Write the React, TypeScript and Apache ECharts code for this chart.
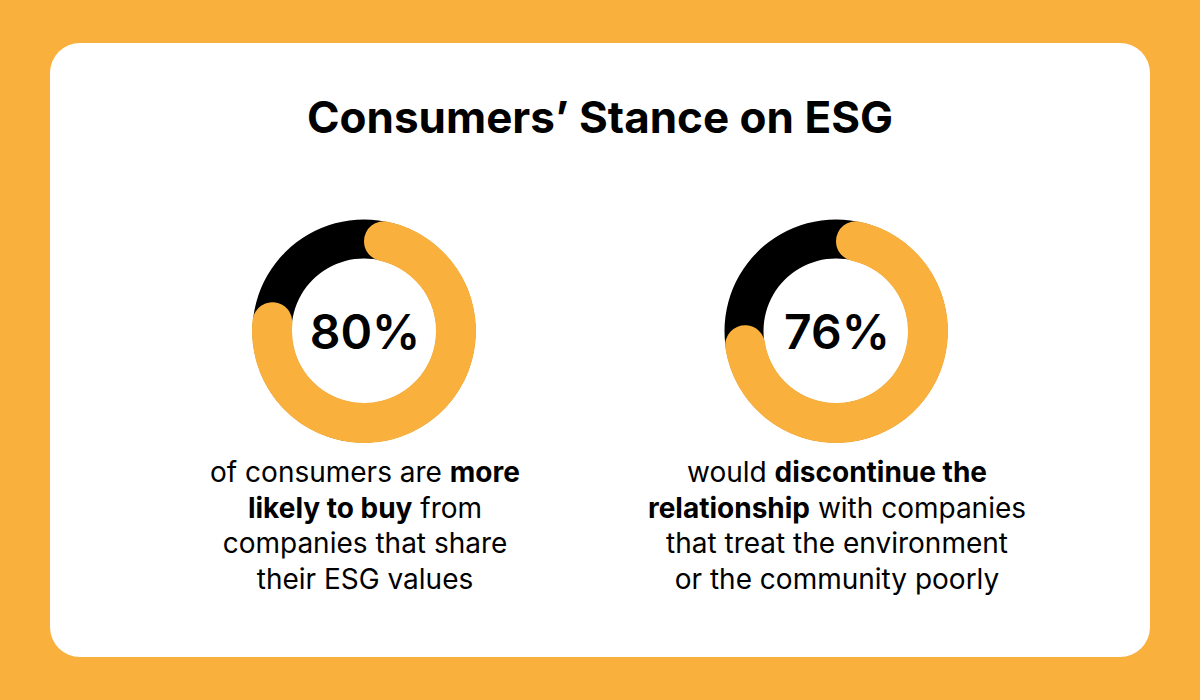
import React, { useEffect, useRef } from "react";
import * as echarts from "echarts";

const TITLE = "Consumers’ Stance on ESG";
const centerLabels = ["80%", "76%"];
const shares = [80, 76];
const remainders = [20, 24];
const descLeft = [
  "of consumers are {b|more}",
  "{b|likely to buy} from",
  "companies that share",
  "their ESG values",
];
const descRight = [
  "would {b|discontinue the}",
  "{b|relationship} with companies",
  "that treat the environment",
  "or the community poorly",
];

const ORANGE = "#F9B03D";
const FONT = "Inter, 'DejaVu Sans', sans-serif";

export default function App() {
  const ref = useRef<HTMLDivElement>(null);
  useEffect(() => {
    document.body.style.margin = "0";
    const chart = echarts.init(ref.current!, null, { renderer: "svg" });
    const centers = [
      [364, 331],
      [836, 331],
    ];
    const descs = [descLeft, descRight];
    const series: any[] = [];
    centers.forEach((c, i) => {
      series.push({
        type: "pie",
        center: c,
        radius: [72.5, 111.5],
        silent: true,
        label: { show: false },
        labelLine: { show: false },
        emphasis: { disabled: true },
        data: [{ value: 100, name: "bg" + i, itemStyle: { color: "#000000" } }],
      });
      series.push({
        type: "pie",
        center: c,
        radius: [72, 112],
        startAngle: 90,
        clockwise: true,
        silent: true,
        label: { show: false },
        labelLine: { show: false },
        emphasis: { disabled: true },
        data: [
          { value: shares[i], name: "yes" + i, itemStyle: { color: ORANGE, borderRadius: 20 } },
          { value: remainders[i], name: "no" + i, itemStyle: { color: "rgba(0,0,0,0)" } },
        ],
      });
    });

    const graphics: any[] = [
      {
        type: "rect",
        shape: { x: 50, y: 43, width: 1100, height: 614, r: 30 },
        style: { fill: "#ffffff" },
        z: -10,
      },
      {
        type: "text",
        x: 600,
        y: 117,
        style: {
          text: TITLE,
          fill: "#000",
          font: `bold 44px ${FONT}`,
          align: "center",
          verticalAlign: "middle",
        },
      },
    ];
    centers.forEach((c, i) => {
      graphics.push({
        type: "text",
        x: c[0] + 1,
        y: c[1],
        style: {
          text: centerLabels[i],
          fill: "#000",
          font: `600 48px ${FONT}`,
          align: "center",
          verticalAlign: "middle",
        },
      });
      descs[i].forEach((line, j) => {
        graphics.push({
          type: "text",
          x: c[0] + 1,
          y: 472 + j * 35.5,
          style: {
            text: line,
            fill: "#000",
            fontFamily: FONT,
            fontSize: 28,
            fontWeight: 400,
            align: "center",
            verticalAlign: "middle",
            rich: {
              b: { fontFamily: FONT, fontSize: 28, fontWeight: "bold", fill: "#000" },
            },
          },
        });
      });
    });

    chart.setOption({
      animation: false,
      backgroundColor: ORANGE,
      series,
      graphic: graphics,
    });
    return () => chart.dispose();
  }, []);
  return <div ref={ref} style={{ width: 1200, height: 700 }} />;
}
